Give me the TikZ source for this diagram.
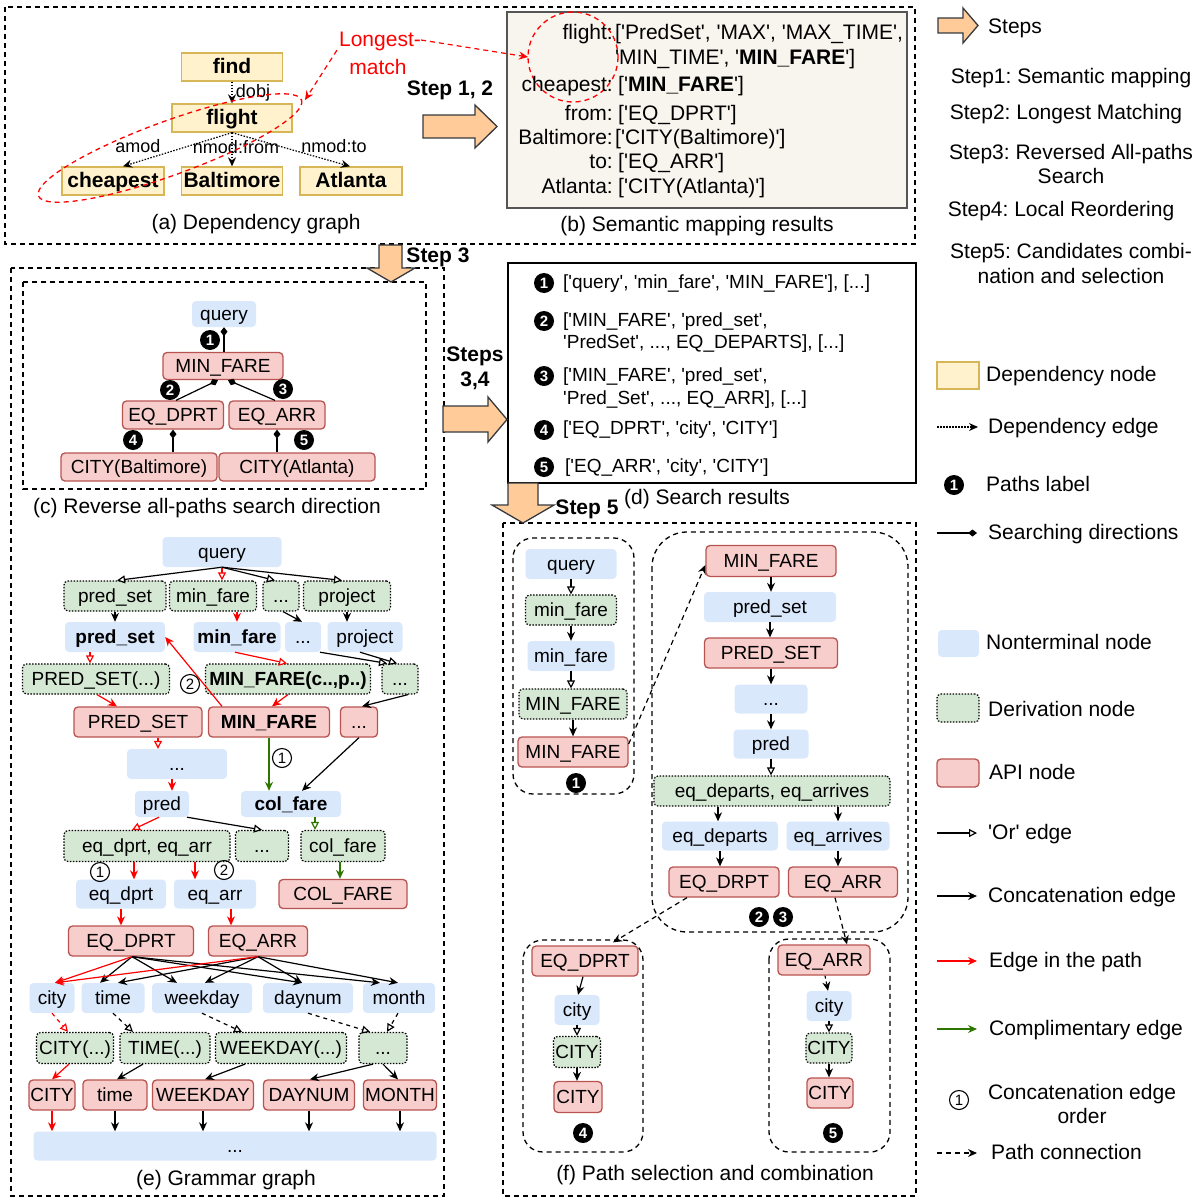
\documentclass[tikz,border=0pt]{standalone}
\usepackage{fontspec}
\setmainfont{Liberation Sans}[Ligatures=TeXOff]
\usetikzlibrary{arrows.meta,calc}
\definecolor{depF}{HTML}{FFF2CC}
\definecolor{depS}{HTML}{D6B656}
\definecolor{ntF}{HTML}{DAE8FC}
\definecolor{dvF}{HTML}{D5E8D4}
\definecolor{apiF}{HTML}{F8CECC}
\definecolor{apiS}{HTML}{B85450}
\definecolor{grn}{HTML}{2D7600}
\definecolor{stepF}{HTML}{FFCC99}
\definecolor{stepS}{HTML}{36393D}
\definecolor{mapF}{HTML}{F7F5EE}
\definecolor{mapS}{HTML}{555555}
\frenchspacing
\tikzset{
  fbig/.style={inner sep=0pt, text height=16.5pt, text depth=3.5pt, font=\fontsize{21}{24}\selectfont},
  fbigm/.style={inner sep=0pt, font=\fontsize{21}{24}\selectfont},
  fmid/.style={inner sep=0pt, text height=15pt, text depth=3pt, font=\fontsize{19}{22}\selectfont},
  flab/.style={inner sep=0pt, text height=14pt, text depth=3pt, font=\fontsize{18}{21}\selectfont},
  depn/.style={draw=depS, fill=depF, line width=1.3pt, minimum height=28pt, inner sep=0pt, text height=16.5pt, text depth=3.5pt, font=\fontsize{21}{24}\selectfont\bfseries},
  ntn/.style={fill=ntF, rounded corners=4pt, minimum height=30pt, inner sep=0pt, text height=15pt, text depth=3pt, font=\fontsize{19}{22}\selectfont},
  dvn/.style={fill=dvF, draw=black, line width=1.2pt, dash pattern=on 1.5pt off 1.5pt, rounded corners=4pt, minimum height=30pt, inner sep=0pt, text height=15pt, text depth=3pt, font=\fontsize{19}{22}\selectfont},
  apin/.style={fill=apiF, draw=apiS, line width=1.3pt, rounded corners=4pt, minimum height=30pt, inner sep=0pt, text height=15pt, text depth=3pt, font=\fontsize{19}{22}\selectfont},
  cat/.style={line width=1.2pt, -{Stealth[length=9pt,width=8pt]}},
  orr/.style={line width=1.2pt, -{Triangle[length=8pt,width=8pt,fill=white]}},
  depe/.style={line width=1.2pt, dash pattern=on 1.5pt off 1.5pt, -{Stealth[length=9pt,width=8pt]}},
  srch/.style={line width=1.2pt, -{Diamond[length=9pt,width=7pt]}},
  pconn/.style={line width=1.2pt, dash pattern=on 5pt off 4pt, -{Stealth[length=9pt,width=8pt]}},
  dsh/.style={dash pattern=on 4pt off 4pt},
  frame/.style={draw=black, line width=1.3pt, dash pattern=on 5pt off 4pt},
  stepar/.style={fill=stepF, draw=stepS, line width=1.3pt},
  pl/.style={circle, fill=black, text=white, inner sep=0pt, minimum size=20pt, font=\fontsize{15}{15}\selectfont\bfseries},
  cl/.style={circle, draw=black, line width=1.1pt, inner sep=0pt, minimum size=19pt, font=\fontsize{15}{15}\selectfont},
}
\begin{document}
\frenchspacing
\begin{tikzpicture}[x=1pt,y=-1pt]
\useasboundingbox (0,0) rectangle (1204,1199);

% ---------- frames ----------
\draw[frame] (5,7) rectangle (915,244);
\draw[frame] (11,268) rectangle (444,1196);
\draw[frame] (23,282) rectangle (426,489);
\draw[frame] (503,523) rectangle (916,1196);
\draw[frame, rounded corners=20pt] (513,538) rectangle (634,794);
\draw[frame, rounded corners=35pt] (652,532) rectangle (908,932);
\draw[frame, rounded corners=20pt] (523,940) rectangle (643,1152);
\draw[frame, rounded corners=20pt] (769,939) rectangle (890,1152);
\draw[line width=1.3pt] (508,263) rectangle (916,483);
\draw[line width=1.5pt, draw=mapS, fill=mapF] (507,12) rectangle (907,208);

% ---------- step arrows ----------
\draw[stepar] (423,115) -- (475,115) -- (475,105) -- (497,126.5) -- (475,148) -- (475,138) -- (423,138) -- cycle;
\draw[stepar] (379,245) -- (402,245) -- (402,268) -- (415,268) -- (391,282) -- (367,268) -- (379,268) -- cycle;
\draw[stepar] (443,406) -- (488,406) -- (488,397) -- (507,419.5) -- (488,442) -- (488,432) -- (443,432) -- cycle;
\draw[stepar] (508,483) -- (538,483) -- (538,505) -- (554,505) -- (523,523) -- (492,505) -- (508,505) -- cycle;
\node[fbig, font=\fontsize{21}{24}\selectfont\bfseries] (s12) at (450,89) {Step 1, 2};
\node[fbig, font=\fontsize{21}{24}\selectfont\bfseries] (s3) at (438,256) {Step 3};
\node[fbigm, font=\fontsize{21}{25}\selectfont\bfseries, align=center] (s34) at (475,368) {Steps\\3,4};
\node[fbig, font=\fontsize{21}{24}\selectfont\bfseries] (s5) at (587,508) {Step 5};

% ---------- (a) dependency graph ----------
\node[depn, minimum width=101pt] (A_find) at (232,67) {find};
\node[depn, minimum width=120pt] (A_fl) at (232,118) {flight};
\node[depn, minimum width=102pt] (A_ch) at (113,181) {cheapest};
\node[depn, minimum width=101pt] (A_bal) at (232,181) {Baltimore};
\node[depn, minimum width=102pt] (A_atl) at (351,181) {Atlanta};
\draw[depe] (A_find) -- (A_fl);
\draw[depe] (A_fl.south) -- ([xshift=10pt]A_ch.north);
\draw[depe] (A_fl.south) -- (A_bal.north);
\draw[depe] (A_fl.south) -- ([xshift=-1pt]A_atl.north);
\node[flab] (l_dobj) at (253,92) {dobj};
\node[flab] (l_amod) at (138,147) {amod};
\node[flab] (l_nfrom) at (236,148) {nmod:from};
\node[flab] (l_nto) at (334,147) {nmod:to};
\draw[red, line width=1.3pt, dash pattern=on 5pt off 4pt, rotate around={20:(170,148)}] (170,148) ellipse [x radius=140, y radius=27];
\node[fbig, text=red] (lng) at (380,40) {Longest-};
\node[fbig, text=red] (mtch) at (378,68) {match};
\coordinate (circW) at (528,57);
\coordinate (ellTR) at (305,100);
\draw[pconn, red] (lng.east) -- (circW);
\draw[pconn, red] ([xshift=-2pt]lng.south west) -- (ellTR);
\node[fbig] (capA) at (256,223) {(a) Dependency graph};

% ---------- (b) semantic mapping ----------
\draw[red, line width=1.3pt, dash pattern=on 5pt off 4pt] (573,57) circle [radius=45];
\node[fbig, anchor=east] (b1l) at (613,33) {flight:};
\node[fbig, anchor=west] (b1r) at (615,33) {['PredSet', 'MAX', 'MAX\_TIME',};
\node[fbig, anchor=west] (b1s) at (615,58) {'MIN\_TIME', '\textbf{MIN\_FARE}']};
\node[fbig, anchor=east] (b2l) at (613,85) {cheapest:};
\node[fbig, anchor=west] (b2r) at (618,85) {['\textbf{MIN\_FARE}']};
\node[fbig, anchor=east] (b3l) at (613,114) {from:};
\node[fbig, anchor=west] (b3r) at (618,114) {['EQ\_DPRT']};
\node[fbig, anchor=east] (b4l) at (613,138) {Baltimore:};
\node[fbig, anchor=west] (b4r) at (615,138) {['CITY(Baltimore)']};
\node[fbig, anchor=east] (b5l) at (613,162) {to:};
\node[fbig, anchor=west] (b5r) at (618,162) {['EQ\_ARR']};
\node[fbig, anchor=east] (b6l) at (613,187) {Atlanta:};
\node[fbig, anchor=west] (b6r) at (618,187) {['CITY(Atlanta)']};
\node[fbig] (capB) at (697,225) {(b) Semantic mapping results};

% ---------- (c) reverse search ----------
\node[ntn, minimum width=64pt, minimum height=26pt] (C_q) at (224,314) {query};
\node[apin, minimum width=120pt, minimum height=27pt] (C_MF) at (223,366) {MIN\_FARE};
\node[apin, minimum width=101pt, minimum height=28pt] (C_EQD) at (173,415) {EQ\_DPRT};
\node[apin, minimum width=96pt, minimum height=28pt] (C_EQA) at (277,415) {EQ\_ARR};
\node[apin, minimum width=156pt, minimum height=28pt] (C_CB) at (139,467) {CITY(Baltimore)};
\node[apin, minimum width=156pt, minimum height=28pt] (C_CA) at (297,467) {CITY(Atlanta)};
\draw[srch] ([xshift=1pt]C_MF.north) -- ([xshift=0pt]C_q.south);
\draw[srch] ([xshift=3pt]C_EQD.north) -- ([xshift=-5pt]C_MF.south);
\draw[srch] ([xshift=-2pt]C_EQA.north) -- ([xshift=5pt]C_MF.south);
\draw[srch] ([xshift=34pt]C_CB.north) -- (C_EQD.south);
\draw[srch] ([xshift=-20pt]C_CA.north) -- (C_EQA.south);
\node[pl] (cp1) at (210,340) {1};
\node[pl] (cp2) at (170,390) {2};
\node[pl] (cp3) at (283,389) {3};
\node[pl] (cp4) at (133,440) {4};
\node[pl] (cp5) at (304,440) {5};
\node[fbig] (capC) at (207,507) {(c) Reverse all-paths search direction};

% ---------- (d) search results ----------
\node[pl] (dp1) at (544,283) {1};
\node[fmid, anchor=west] (d1) at (563,282) {['query', 'min\_fare', 'MIN\_FARE'], [...]};
\node[pl] (dp2) at (544,321) {2};
\node[fmid, anchor=west] (d2a) at (563,320) {['MIN\_FARE', 'pred\_set',};
\node[fmid, anchor=west] (d2b) at (563,342) {'PredSet', ..., EQ\_DEPARTS], [...]};
\node[pl] (dp3) at (544,376) {3};
\node[fmid, anchor=west] (d3a) at (563,375) {['MIN\_FARE', 'pred\_set',};
\node[fmid, anchor=west] (d3b) at (563,398) {'Pred\_Set', ..., EQ\_ARR], [...]};
\node[pl] (dp4) at (544,430) {4};
\node[fmid, anchor=west] (d4) at (563,428) {['EQ\_DPRT', 'city', 'CITY']};
\node[pl] (dp5) at (544,467) {5};
\node[fmid, anchor=west] (d5) at (565,466) {['EQ\_ARR', 'city', 'CITY']};
\node[fbig] (capD) at (707,498) {(d) Search results};

% ---------- (e) grammar graph ----------
\node[ntn, minimum width=119pt] (E_q) at (222,552) {query};
\node[dvn, minimum width=102pt] (E_psg) at (115,596) {pred\_set};
\node[dvn, minimum width=87pt] (E_mfg) at (213,596) {min\_fare};
\node[dvn, minimum width=36pt] (E_dg1) at (281,596) {...};
\node[dvn, minimum width=87pt] (E_prg) at (347,596) {project};
\node[ntn, minimum width=100pt, font=\fontsize{19}{22}\selectfont\bfseries] (E_psb) at (115,637) {pred\_set};
\node[ntn, minimum width=87pt, font=\fontsize{19}{22}\selectfont\bfseries] (E_mfb) at (237,637) {min\_fare};
\node[ntn, minimum width=36pt] (E_db1) at (303,637) {...};
\node[ntn, minimum width=75pt] (E_prb) at (365,637) {project};
\node[dvn, minimum width=147pt] (E_PSg) at (96,679) {PRED\_SET(...)};
\node[dvn, minimum width=165pt, font=\fontsize{19}{22}\selectfont\bfseries] (E_MFg) at (288,679) {MIN\_FARE(c..,p..)};
\node[dvn, minimum width=36pt] (E_dg2) at (400,679) {...};
\node[apin, minimum width=128pt] (E_PS) at (138,722) {PRED\_SET};
\node[apin, minimum width=121pt, font=\fontsize{19}{22}\selectfont\bfseries] (E_MF) at (269,722) {MIN\_FARE};
\node[apin, minimum width=37pt] (E_dr1) at (359,722) {...};
\node[ntn, minimum width=100pt] (E_db2) at (177,764) {...};
\node[ntn, minimum width=54pt, minimum height=26pt] (E_pred) at (162,804) {pred};
\node[ntn, minimum width=100pt, minimum height=26pt, font=\fontsize{19}{22}\selectfont\bfseries] (E_cfb) at (291,804) {col\_fare};
\node[dvn, minimum width=166pt, minimum height=31pt] (E_eqg) at (147,846) {eq\_dprt, eq\_arr};
\node[dvn, minimum width=53pt, minimum height=31pt] (E_dg3) at (262,846) {...};
\node[dvn, minimum width=84pt, minimum height=31pt] (E_cfg) at (343,846) {col\_fare};
\node[ntn, minimum width=90pt, minimum height=29pt] (E_eqd) at (121,894) {eq\_dprt};
\node[ntn, minimum width=82pt, minimum height=29pt] (E_eqa) at (215,894) {eq\_arr};
\node[apin, minimum width=128pt, minimum height=29pt] (E_CF) at (343,894) {COL\_FARE};
\node[apin, minimum width=125pt] (E_EQD) at (131,941) {EQ\_DPRT};
\node[apin, minimum width=99pt] (E_EQA) at (258,941) {EQ\_ARR};
\node[ntn, minimum width=45pt] (E_city) at (52,998) {city};
\node[ntn, minimum width=63pt] (E_time) at (113,998) {time};
\node[ntn, minimum width=100pt] (E_wk) at (202,998) {weekday};
\node[ntn, minimum width=90pt] (E_dn) at (308,998) {daynum};
\node[ntn, minimum width=72pt] (E_mo) at (399,998) {month};
\node[dvn, minimum width=77pt, minimum height=31pt] (E_CITYg) at (75,1048) {CITY(...)};
\node[dvn, minimum width=90pt, minimum height=31pt] (E_TIMEg) at (165,1048) {TIME(...)};
\node[dvn, minimum width=131pt, minimum height=31pt] (E_WKg) at (281,1048) {WEEKDAY(...)};
\node[dvn, minimum width=48pt, minimum height=31pt] (E_dg4) at (383,1048) {...};
\node[apin, minimum width=46pt] (E_CITY) at (52,1095) {CITY};
\node[apin, minimum width=64pt] (E_timer) at (115,1095) {time};
\node[apin, minimum width=101pt] (E_WK) at (203,1095) {WEEKDAY};
\node[apin, minimum width=91pt] (E_DN) at (309,1095) {DAYNUM};
\node[apin, minimum width=73pt] (E_MO) at (400,1095) {MONTH};
\node[ntn, minimum width=403pt, minimum height=29pt] (E_bot) at (235,1146) {...};

\draw[orr] (E_q.south) -- ([xshift=2pt]E_psg.north);
\draw[orr, red] (E_q.south) -- ([xshift=9pt]E_mfg.north);
\draw[orr] (E_q.south) -- ([xshift=-6pt]E_dg1.north);
\draw[orr] (E_q.south) -- ([xshift=-5pt]E_prg.north);
\draw[cat] (E_psg.south) -- (E_psb.north);
\draw[cat, red] ([xshift=24pt]E_mfg.south) -- (E_mfb.north);
\draw[cat] ([xshift=2pt]E_dg1.south) -- ([xshift=-1pt]E_db1.north);
\draw[cat] (E_prg.south) -- ([xshift=-18pt]E_prb.north);
\draw[orr, red] ([xshift=-25pt]E_psb.south) -- ([xshift=-6pt]E_PSg.north);
\draw[orr, red] ([xshift=-2pt]E_mfb.south) -- ([xshift=-1pt]E_MFg.north);
\draw[orr] ([xshift=17pt]E_db1.south) -- ([xshift=-13pt]E_dg2.north);
\draw[orr] ([xshift=-5pt]E_prb.south) -- ([xshift=-3pt]E_dg2.north);
\draw[cat, red] ([xshift=1pt]E_PSg.south) -- ([xshift=-21pt]E_PS.north);
\draw[cat, red] (E_MFg.south) -- ([xshift=3pt]E_MF.north);
\draw[cat] ([xshift=8pt]E_dg2.south) -- ([xshift=3pt]E_dr1.north);
\draw[cat, red] ([xshift=-47pt]E_MF.north) -- (E_psb.east);
\draw[orr, red] ([xshift=20pt]E_PS.south) -- ([xshift=-19pt]E_db2.north);
\draw[cat, red] ([xshift=-5pt]E_db2.south) -- ([xshift=10pt]E_pred.north);
\draw[cat, grn] (E_MF.south) -- ([xshift=-22pt]E_cfb.north);
\draw[cat] (E_dr1.south) -- ([xshift=11pt]E_cfb.north);
\draw[orr, red] ([xshift=-3pt]E_pred.south) -- ([xshift=-15pt]E_eqg.north);
\draw[orr] ([xshift=25pt]E_pred.south) -- (E_dg3.north);
\draw[orr, grn] ([xshift=24pt]E_cfb.south) -- ([xshift=-28pt]E_cfg.north);
\draw[cat, red] ([xshift=-13pt]E_eqg.south) -- ([xshift=13pt]E_eqd.north);
\draw[cat, red] ([xshift=48pt]E_eqg.south) -- ([xshift=-20pt]E_eqa.north);
\draw[cat, grn] ([xshift=-3pt]E_cfg.south) -- ([xshift=-3pt]E_CF.north);
\draw[cat, red] (E_eqd.south) -- ([xshift=-10pt]E_EQD.north);
\draw[cat, red] ([xshift=16pt]E_eqa.south) -- ([xshift=-27pt]E_EQA.north);
\draw[cat] ([xshift=1pt]E_EQD.south) -- ([xshift=-13pt]E_time.north);
\draw[cat] ([xshift=1pt]E_EQD.south) -- ([xshift=-25pt]E_wk.north);
\draw[cat] ([xshift=1pt]E_EQD.south) -- ([xshift=-6pt]E_dn.north);
\draw[cat] ([xshift=1pt]E_EQD.south) -- ([xshift=-19pt]E_mo.north);
\draw[cat] (E_EQA.south) -- ([xshift=5pt]E_time.north);
\draw[cat] (E_EQA.south) -- ([xshift=3pt]E_wk.north);
\draw[cat] (E_EQA.south) -- ([xshift=-6pt]E_dn.north);
\draw[cat] (E_EQA.south) -- ([xshift=-1pt]E_mo.north);
\draw[cat, red] ([xshift=1pt]E_EQD.south) -- ([xshift=3pt]E_city.north);
\draw[cat, red] (E_EQA.south) -- ([xshift=3pt]E_city.north);
\draw[orr, red, dsh] (E_city.south) -- ([xshift=-7pt]E_CITYg.north);
\draw[orr, dsh] (E_time.south) -- ([xshift=-32pt]E_TIMEg.north);
\draw[orr, dsh] (E_wk.south) -- ([xshift=-39pt]E_WKg.north);
\draw[orr, dsh] (E_dn.south) -- ([xshift=-13pt]E_dg4.north);
\draw[orr, dsh] ([xshift=-1pt]E_mo.south) -- ([xshift=4pt]E_dg4.north);
\draw[cat, red] ([xshift=-6pt]E_CITYg.south) -- (E_CITY.north);
\draw[cat] ([xshift=-22pt]E_TIMEg.south) -- ([xshift=2pt]E_timer.north);
\draw[cat] ([xshift=-36pt]E_WKg.south) -- ([xshift=2pt]E_WK.north);
\draw[cat] ([xshift=-10pt]E_dg4.south) -- ([xshift=1pt]E_DN.north);
\draw[cat] (E_dg4.south) -- ([xshift=-2pt]E_MO.north);
\draw[cat, red] (E_CITY.south) -- ([xshift=-183pt]E_bot.north);
\draw[cat] (E_timer.south) -- ([xshift=-120pt]E_bot.north);
\draw[cat] (E_WK.south) -- ([xshift=-32pt]E_bot.north);
\draw[cat] (E_DN.south) -- ([xshift=74pt]E_bot.north);
\draw[cat] (E_MO.south) -- ([xshift=165pt]E_bot.north);
\node[cl] (ec1) at (282,758) {1};
\node[cl] (ec2) at (190,684) {2};
\node[cl] (ec3) at (100,872) {1};
\node[cl] (ec4) at (224,870) {2};
\node[fbig] (capE) at (226,1179) {(e) Grammar graph};

% ---------- (f) path selection ----------
\node[ntn, minimum width=91pt] (F_q) at (571,564) {query};
\node[dvn, minimum width=91pt] (F_mfg) at (571,610) {min\_fare};
\node[ntn, minimum width=87pt] (F_mfb) at (571,656) {min\_fare};
\node[dvn, minimum width=108pt] (F_MFg) at (573,704) {MIN\_FARE};
\node[apin, minimum width=110pt] (F_MF) at (573,752) {MIN\_FARE};
\node[pl] (fp1) at (576,783) {1};
\draw[orr] (F_q.south) -- (F_q.south |- F_mfg.north);
\draw[cat] (F_mfg.south) -- (F_mfg.south |- F_mfb.north);
\draw[orr] (F_mfb.south) -- (F_mfb.south |- F_MFg.north);
\draw[cat] (F_MFg.south) -- (F_MFg.south |- F_MF.north);

\node[apin, minimum width=130pt, minimum height=31pt] (F_MF2) at (771,561) {MIN\_FARE};
\node[ntn, minimum width=132pt] (F_ps) at (770,607) {pred\_set};
\node[apin, minimum width=133pt] (F_PS) at (771,653) {PRED\_SET};
\node[ntn, minimum width=73pt, minimum height=29pt] (F_dot) at (771,699) {...};
\node[ntn, minimum width=75pt, minimum height=29pt] (F_pred) at (771,744) {pred};
\node[dvn, minimum width=236pt] (F_eqg) at (772,791) {eq\_departs, eq\_arrives};
\node[ntn, minimum width=116pt, minimum height=29pt] (F_eqd) at (720,836) {eq\_departs};
\node[ntn, minimum width=103pt, minimum height=29pt] (F_eqa) at (838,836) {eq\_arrives};
\node[apin, minimum width=110pt] (F_EQD) at (724,882) {EQ\_DRPT};
\node[apin, minimum width=109pt] (F_EQA) at (843,882) {EQ\_ARR};
\node[pl] (fp2) at (759,917) {2};
\node[pl] (fp3) at (783,917) {3};
\draw[cat] (F_MF2.south) -- (F_MF2.south |- F_ps.north);
\draw[cat] (F_ps.south) -- (F_ps.south |- F_PS.north);
\draw[cat] (F_PS.south) -- (F_PS.south |- F_dot.north);
\draw[cat] (F_dot.south) -- (F_dot.south |- F_pred.north);
\draw[orr] (F_pred.south) -- (F_pred.south |- F_eqg.north);
\draw[cat] ([xshift=-54pt]F_eqg.south) -- ([xshift=-2pt]F_eqd.north);
\draw[cat] ([xshift=66pt]F_eqg.south) -- (F_eqa.north);
\draw[cat] (F_eqd.south) -- ([xshift=-4pt]F_EQD.north);
\draw[cat] (F_eqa.south) -- ([xshift=-5pt]F_EQA.north);
\draw[pconn] ([yshift=8pt]F_MF.east) -- ([yshift=-4pt]F_MF2.west);

\node[apin, minimum width=106pt] (FL_EQD) at (585,961) {EQ\_DPRT};
\node[ntn, minimum width=45pt] (FL_city) at (577,1010) {city};
\node[dvn, minimum width=47pt, minimum height=31pt] (FL_CITYg) at (577,1052) {CITY};
\node[apin, minimum width=48pt, minimum height=31pt] (FL_CITY) at (578,1097) {CITY};
\node[pl] (fp4) at (583,1133) {4};
\draw[cat] ([xshift=-2pt]FL_EQD.south) -- ([xshift=1pt]FL_city.north);
\draw[orr] (FL_city.south) -- (FL_city.south |- FL_CITYg.north);
\draw[cat] (FL_CITYg.south) -- (FL_CITYg.south |- FL_CITY.north);

\node[apin, minimum width=92pt] (FR_EQA) at (824,960) {EQ\_ARR};
\node[ntn, minimum width=45pt] (FR_city) at (829,1006) {city};
\node[dvn, minimum width=46pt] (FR_CITYg) at (829,1048) {CITY};
\node[apin, minimum width=46pt] (FR_CITY) at (830,1093) {CITY};
\node[pl] (fp5) at (833,1133) {5};
\draw[cat, dash pattern=on 3pt off 3pt] ([xshift=1pt]FR_EQA.south) -- ([xshift=-1pt]FR_city.north);
\draw[orr] (FR_city.south) -- (FR_city.south |- FR_CITYg.north);
\draw[cat] (FR_CITYg.south) -- (FR_CITYg.south |- FR_CITY.north);

\draw[pconn] ([xshift=-37pt]F_EQD.south) -- ([xshift=28pt,yshift=3pt]FL_EQD.north);
\draw[pconn] ([xshift=-8pt]F_EQA.south) -- ([xshift=23pt]FR_EQA.north);
\node[fbig] (capF) at (715,1174) {(f) Path selection and combination};

% ---------- legend ----------
\draw[stepar] (938,18) -- (963,18) -- (963,8) -- (978,25.5) -- (963,43) -- (963,33) -- (938,33) -- cycle;
\node[fbig, anchor=west] (lg_steps) at (988,27) {Steps};
\node[fbig] (lg_s1) at (1071,77) {Step1: Semantic mapping};
\node[fbig] (lg_s2) at (1066,113) {Step2: Longest Matching};
\node[fbigm, align=center] (lg_s3) at (1071,163.5) {Step3: Reversed All-paths\\Search};
\node[fbig] (lg_s4) at (1061,210) {Step4: Local Reordering};
\node[fbigm, font=\fontsize{21}{25}\selectfont, align=center] (lg_s5) at (1071,263.5) {Step5: Candidates combi-\\nation and selection};

\node[draw=depS, fill=depF, line width=1.3pt, minimum width=42pt, minimum height=27pt, inner sep=0pt] (lg_dep) at (958,375.5) {};
\node[fbig, anchor=west] (lg_dept) at (986,375) {Dependency node};
\coordinate (lg_de1) at (937,427); \coordinate (lg_de2) at (978,427);
\draw[depe] (lg_de1) -- (lg_de2);
\node[fbig, anchor=west] (lg_det) at (988,427) {Dependency edge};
\node[pl] (lg_pl) at (954,485) {1};
\node[fbig, anchor=west] (lg_plt) at (986,485) {Paths label};
\coordinate (lg_sd1) at (937,533); \coordinate (lg_sd2) at (977,533);
\draw[srch] (lg_sd1) -- (lg_sd2);
\node[fbig, anchor=west] (lg_sdt) at (988,533) {Searching directions};
\node[ntn, minimum width=41pt, minimum height=27pt] (lg_nt) at (958.5,643.5) {};
\node[fbig, anchor=west] (lg_ntt) at (986,643) {Nonterminal node};
\node[dvn, minimum width=42pt, minimum height=28pt] (lg_dv) at (958,708) {};
\node[fbig, anchor=west] (lg_dvt) at (988,710) {Derivation node};
\node[apin, minimum width=42pt, minimum height=28pt] (lg_api) at (958,773) {};
\node[fbig, anchor=west] (lg_apit) at (989,773) {API node};
\coordinate (lg_o1) at (937,833); \coordinate (lg_o2) at (977,833);
\draw[orr] (lg_o1) -- (lg_o2);
\node[fbig, anchor=west] (lg_ot) at (988,833) {'Or' edge};
\coordinate (lg_c1) at (937,896); \coordinate (lg_c2) at (977,896);
\draw[cat] (lg_c1) -- (lg_c2);
\node[fbig, anchor=west] (lg_ct) at (988,896) {Concatenation edge};
\coordinate (lg_r1) at (937,961); \coordinate (lg_r2) at (977,961);
\draw[cat, red] (lg_r1) -- (lg_r2);
\node[fbig, anchor=west] (lg_rt) at (989,961) {Edge in the path};
\coordinate (lg_g1) at (937,1029); \coordinate (lg_g2) at (977,1029);
\draw[cat, grn] (lg_g1) -- (lg_g2);
\node[fbig, anchor=west] (lg_gt) at (989,1029) {Complimentary edge};
\node[cl] (lg_cl) at (959,1100) {1};
\node[fbigm, align=center] (lg_clt) at (1082,1103.5) {Concatenation edge\\order};
\coordinate (lg_p1) at (937,1153); \coordinate (lg_p2) at (977,1153);
\draw[pconn] (lg_p1) -- (lg_p2);
\node[fbig, anchor=west] (lg_pt) at (991,1153) {Path connection};
\end{tikzpicture}
\end{document}
